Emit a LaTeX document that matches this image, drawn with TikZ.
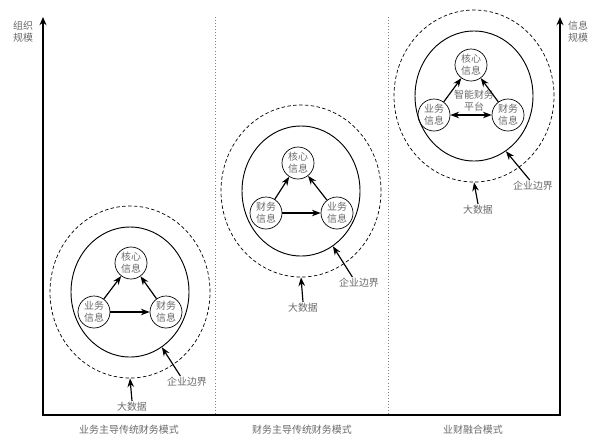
\documentclass[tikz,border=0pt]{standalone}
\usepackage{fontspec}
\setmainfont{Noto Sans CJK SC}
\usepackage{xcolor}
\usetikzlibrary{arrows.meta,positioning,shapes.geometric}
\definecolor{txtgray}{HTML}{6A6A6A}

\begin{document}
\begin{tikzpicture}[>=Stealth, x=0.03cm, y=-0.03cm,
  info/.style={circle,draw,line width=0.6pt,minimum size=0.96cm,inner sep=0pt,
    align=center,text=txtgray,font=\fontsize{8.5}{10}\selectfont},
  bound/.style={ellipse,draw,line width=0.8pt,minimum width=3.54cm,minimum height=3.9cm},
  bigdata/.style={ellipse,draw,dashed,dash pattern=on 3pt off 2pt,line width=0.6pt,
    minimum width=4.8cm,minimum height=5.16cm},
  lab/.style={text=txtgray,font=\fontsize{8.5}{10}\selectfont,align=center,inner sep=1pt},
  influ/.style={->,line width=1pt},
  axis/.style={<->,line width=1.2pt,>={Stealth[length=7pt,width=6pt]}},
  sep/.style={dotted,gray,line width=0.6pt}]
  \useasboundingbox (0,0) rectangle (600,440);
  % axes
  \coordinate (t1) at (43,17); \coordinate (o1) at (43,415);
  \coordinate (o2) at (560,415); \coordinate (t2) at (560,17);
  \draw[axis] (t1) -- (o1) -- (o2) -- (t2);
  \node[lab] (yl) at (23,32) {组织\\规模};
  \node[lab] (yr) at (578,32) {信息\\规模};
  \coordinate (s1a) at (215,17); \coordinate (s1b) at (215,415);
  \coordinate (s2a) at (388,17); \coordinate (s2b) at (388,415);
  \draw[sep] (s1a) -- (s1b); \draw[sep] (s2a) -- (s2b);
  \node[lab] (m1) at (129,430) {业务主导传统财务模式};
  \node[lab] (m2) at (302,430) {财务主导传统财务模式};
  \node[lab] (m3) at (473,430) {业财融合模式};
  % panel 1
  \node[bigdata] (dw1) at (130,292) {}; \node[bound] (bj1) at (130,292) {};
  \node[info] (hx1) at (131,263) {核心\\信息};
  \node[info] (yw1) at (94,312) {业务\\信息}; \node[info] (cw1) at (166,312) {财务\\信息};
  \draw[influ] (yw1) -- (hx1); \draw[influ] (cw1) -- (hx1); \draw[influ] (yw1) -- (cw1);
  \node[lab] (qy1) at (187,382) {企业边界}; \node[lab] (dsj1) at (132,407) {大数据};
  \draw[influ] ([xshift=-0.2cm]qy1.north) -- (bj1.-60); \draw[influ] (dsj1.north) -- (dw1.south);
  % panel 2
  \node[bigdata] (dw2) at (301,191) {}; \node[bound] (bj2) at (301,191) {};
  \node[info] (hx2) at (298,163) {核心\\信息};
  \node[info] (cw2) at (266,213) {财务\\信息}; \node[info] (yw2) at (337,213) {业务\\信息};
  \draw[influ] (cw2) -- (hx2); \draw[influ] (yw2) -- (hx2); \draw[influ] (cw2) -- (yw2);
  \node[lab] (qy2) at (359,283) {企业边界}; \node[lab] (dsj2) at (303,308) {大数据};
  \draw[influ] ([xshift=-0.2cm]qy2.north) -- (bj2.-60); \draw[influ] (dsj2.north) -- (dw2.south);
  % panel 3
  \node[bigdata] (dw3) at (474,96) {}; \node[bound] (bj3) at (474,96) {};
  \node[info] (hx3) at (471,65) {核心\\信息};
  \node[info] (yw3) at (434,115) {业务\\信息}; \node[info] (cw3) at (508,115) {财务\\信息};
  \node[lab] (pt3) at (474,101) {智能财务\\平台};
  \draw[influ] (yw3) -- (hx3); \draw[influ] (cw3) -- (hx3); \draw[influ,<->] (yw3) -- (cw3);
  \node[lab] (qy3) at (533,186) {企业边界}; \node[lab] (dsj3) at (478,210) {大数据};
  \draw[influ] ([xshift=-0.1cm]qy3.north) -- (bj3.-60); \draw[influ] (dsj3.north) -- (dw3.south);
\end{tikzpicture}
\end{document}
